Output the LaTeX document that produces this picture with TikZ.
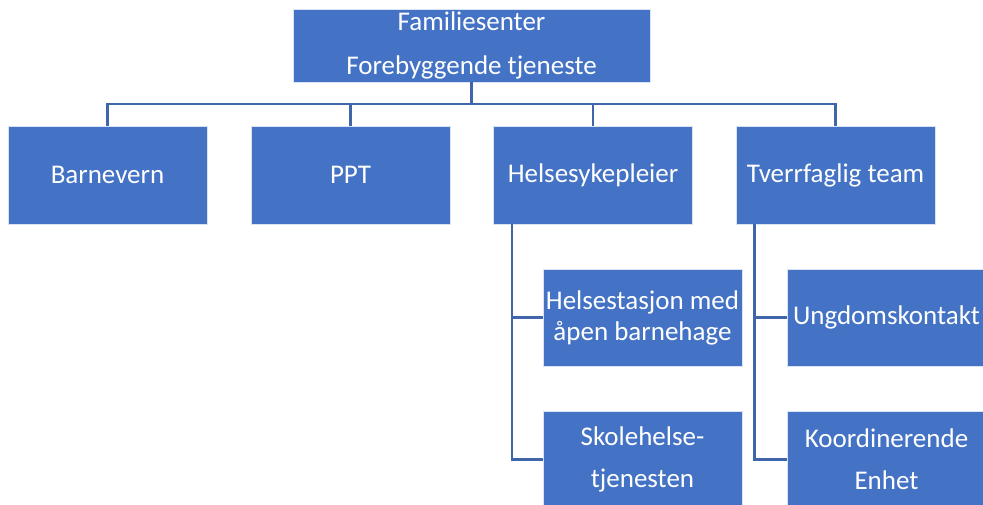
\documentclass[tikz,border=0pt]{standalone}
\usepackage{fontspec}
\setmainfont{Carlito}
\definecolor{boxblue}{HTML}{4472C4}
\definecolor{lineblue}{HTML}{3F65AA}
\begin{document}
\begin{tikzpicture}[x=1pt,y=-1pt,
  box/.style={draw=white!80!boxblue, line width=0.8pt, fill=boxblue, text=white,
    align=center, inner sep=1pt, minimum width=199pt, minimum height=98pt,
    font=\fontsize{27}{31}\selectfont},
  conn/.style={draw=lineblue, line width=2.4pt}]
\useasboundingbox (0,0) rectangle (983,504);
\clip (0,0) rectangle (983,504);
\node[box, minimum width=357pt, minimum height=73pt, font=\fontsize{27}{44}\selectfont] (top) at (471.5,45.5) {Familiesenter\\Forebyggende tjeneste};
\node[box] (bv) at (107.5,175) {Barnevern};
\node[box] (ppt) at (350.5,175) {PPT};
\node[box] (hel) at (593,175) {Helsesykepleier};
\node[box] (tv) at (835.5,175) {Tverrfaglig team};
\node[box, minimum height=97pt] (hst) at (642.5,317.5) {Helsestasjon med\\åpen barnehage};
\node[box, minimum height=97pt, font=\fontsize{27}{42}\selectfont] (sko) at (642.5,459.5) {Skolehelse-\\tjenesten};
\node[box, minimum height=97pt] (ung) at (886.5,317.5) {Ungdomskontakt};
\node[box, minimum height=97pt, font=\fontsize{27}{42}\selectfont] (koo) at (886.5,459.5) {Koordinerende\\Enhet};
\coordinate (bus) at (471.5,104);
\draw[conn] (top.south) -- (bus);
\draw[conn] (bv.north) |- (bus);
\draw[conn] (ppt.north) |- (bus);
\draw[conn] (hel.north) |- (bus);
\draw[conn] (tv.north) |- (bus);
\draw[conn] ([xshift=-81pt]hel.south) |- (hst.west);
\draw[conn] ([xshift=-81pt]hel.south) |- (sko.west);
\draw[conn] ([xshift=-81pt]tv.south) |- (ung.west);
\draw[conn] ([xshift=-81pt]tv.south) |- (koo.west);
\end{tikzpicture}
\end{document}
